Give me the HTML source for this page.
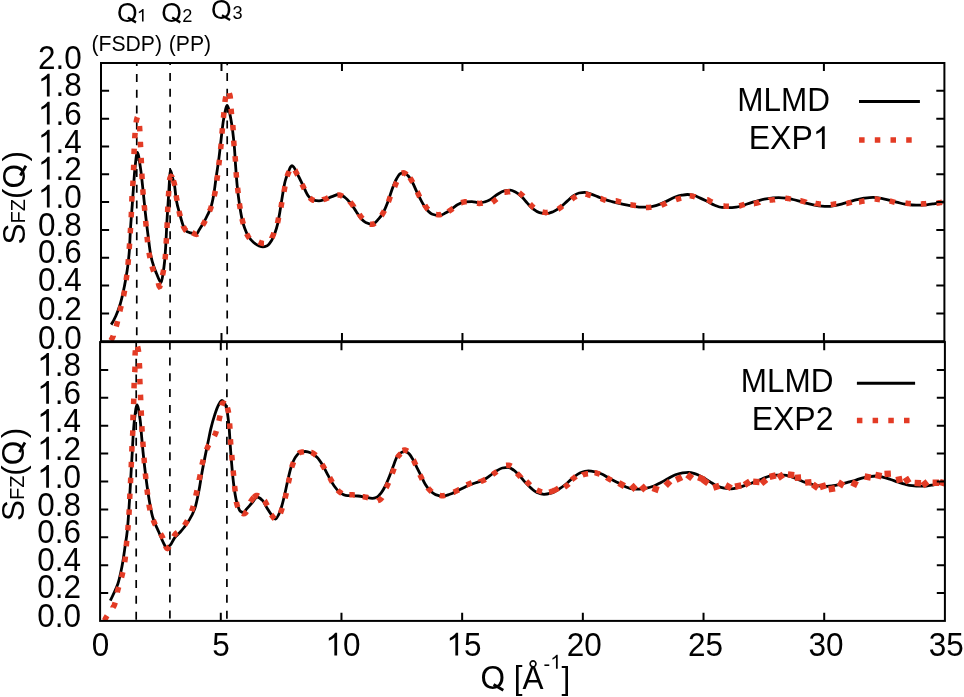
<!DOCTYPE html>
<html><head><meta charset="utf-8"><style>
html,body{margin:0;padding:0;background:#fff;}
svg{display:block;}
text{font-family:"Liberation Sans",sans-serif;font-kerning:none;fill:#000;}
</style></head><body>
<svg width="964" height="697" viewBox="0 0 964 697">
<rect width="964" height="697" fill="#fff"/>
<g stroke="#000" stroke-width="1.7" clip-path="url(#ct)"><line x1="136.76" y1="42.24" x2="136.76" y2="341.20" stroke-dasharray="8 7.83"/><line x1="170.10" y1="57.07" x2="170.10" y2="341.20" stroke-dasharray="8 7.83"/><line x1="227.20" y1="57.17" x2="227.20" y2="341.20" stroke-dasharray="8 7.83"/></g>
<g stroke="#000" stroke-width="1.7" clip-path="url(#cb)"><line x1="136.20" y1="342.86" x2="136.20" y2="620.90" stroke-dasharray="8 7.81"/><line x1="169.90" y1="341.66" x2="169.90" y2="620.90" stroke-dasharray="8 7.81"/><line x1="226.90" y1="341.86" x2="226.90" y2="620.90" stroke-dasharray="8 7.81"/></g>
<defs><clipPath id="ct"><rect x="101.00" y="63.00" width="843.40" height="278.20"/></clipPath><clipPath id="cb"><rect x="100.10" y="342.10" width="844.80" height="278.80"/></clipPath></defs>
<g fill="none" stroke-linejoin="round">
<path clip-path="url(#ct)" d="M111.20 324.60C112.73 322.37 114.27 319.38 115.80 316.00C117.23 312.84 118.67 309.14 120.10 304.50C121.07 301.37 122.03 297.32 123.00 293.00C123.93 288.83 124.87 284.08 125.80 278.70C126.53 274.47 127.27 270.25 128.00 264.30C128.47 260.52 128.93 256.40 129.40 250.00C129.73 245.43 130.07 235.69 130.40 230.20C131.03 219.77 131.67 213.16 132.30 204.30C132.63 199.64 132.97 194.59 133.30 190.00C133.83 182.66 134.37 173.84 134.90 168.90C135.70 161.49 136.50 152.30 137.30 152.30C138.40 152.30 139.50 161.76 140.60 168.90C141.40 174.09 142.20 182.59 143.00 190.00C143.73 196.79 144.47 204.85 145.20 211.50C146.17 220.27 147.13 228.41 148.10 235.90C149.03 243.13 149.97 251.50 150.90 256.00C151.87 260.66 152.83 263.58 153.80 266.50C154.70 269.21 155.60 271.29 156.50 273.50C157.50 275.96 158.50 278.98 159.50 280.50C160.07 281.36 160.63 282.50 161.20 282.50C161.83 282.50 162.47 276.87 163.10 273.00C163.60 269.95 164.10 266.48 164.60 261.50C164.93 258.18 165.27 253.26 165.60 248.00C166.10 240.11 166.60 227.43 167.10 218.70C167.60 209.97 168.10 202.13 168.60 195.00C169.23 185.97 169.87 170.50 170.50 170.50C171.20 170.50 171.90 175.41 172.60 178.00C173.23 180.35 173.87 181.98 174.50 185.30C175.10 188.45 175.70 196.65 176.30 200.00C177.43 206.34 178.57 209.61 179.70 213.70C181.10 218.75 182.50 224.56 183.90 227.30C184.87 229.19 185.83 230.96 186.80 231.50C188.10 232.23 189.40 232.42 190.70 232.80C191.97 233.17 193.23 233.52 194.50 233.80C195.17 233.95 195.83 234.20 196.50 234.20C197.37 234.20 198.23 231.39 199.10 230.00C200.60 227.59 202.10 225.47 203.60 222.80C204.90 220.48 206.20 217.74 207.50 215.00C208.57 212.75 209.63 211.03 210.70 207.90C211.70 204.96 212.70 200.48 213.70 195.00C214.43 190.98 215.17 184.16 215.90 179.00C216.83 172.44 217.77 167.08 218.70 160.00C219.20 156.21 219.70 151.56 220.20 147.40C221.37 137.70 222.53 124.62 223.70 118.70C224.90 112.61 226.10 105.50 227.30 105.50C228.47 105.50 229.63 112.74 230.80 118.70C232.00 124.83 233.20 134.05 234.40 147.40C234.77 151.48 235.13 159.17 235.50 164.30C236.07 172.24 236.63 180.24 237.20 185.90C237.97 193.56 238.73 199.37 239.50 204.50C240.40 210.53 241.30 216.05 242.20 219.80C243.07 223.41 243.93 226.07 244.80 228.40C245.97 231.54 247.13 234.37 248.30 236.20C250.00 238.87 251.70 240.74 253.40 242.20C255.13 243.69 256.87 245.07 258.60 245.70C260.03 246.22 261.47 246.80 262.90 246.80C264.33 246.80 265.77 246.30 267.20 245.70C268.67 245.08 270.13 242.81 271.60 240.50C272.73 238.72 273.87 235.89 275.00 232.80C275.87 230.44 276.73 227.69 277.60 224.10C278.30 221.20 279.00 216.92 279.70 212.90C280.60 207.73 281.50 201.20 282.40 196.00C283.33 190.61 284.27 184.46 285.20 181.00C286.33 176.79 287.47 174.45 288.60 171.50C289.17 170.02 289.73 168.07 290.30 167.30C290.87 166.53 291.43 165.70 292.00 165.70C292.60 165.70 293.20 166.45 293.80 167.10C294.73 168.10 295.67 170.69 296.60 172.50C297.37 173.99 298.13 175.46 298.90 177.00C300.33 179.88 301.77 182.98 303.20 185.90C304.87 189.29 306.53 193.90 308.20 195.90C309.87 197.90 311.53 199.84 313.20 200.20C315.13 200.62 317.07 200.90 319.00 200.90C320.90 200.90 322.80 200.07 324.70 199.50C327.10 198.77 329.50 197.42 331.90 196.60C334.27 195.79 336.63 194.50 339.00 194.50C340.93 194.50 342.87 196.03 344.80 197.30C346.70 198.55 348.60 200.81 350.50 203.10C352.43 205.43 354.37 208.87 356.30 211.70C357.87 213.99 359.43 216.82 361.00 218.50C362.57 220.18 364.13 221.83 365.70 222.50C367.87 223.43 370.03 224.30 372.20 224.30C374.37 224.30 376.53 221.21 378.70 218.90C380.37 217.12 382.03 214.69 383.70 211.70C385.13 209.13 386.57 205.38 388.00 201.60C389.43 197.82 390.87 192.46 392.30 188.70C393.73 184.94 395.17 181.17 396.60 178.70C397.80 176.63 399.00 174.30 400.20 173.70C401.40 173.10 402.60 172.60 403.80 172.60C405.23 172.60 406.67 174.37 408.10 175.80C409.53 177.23 410.97 179.75 412.40 182.30C413.83 184.85 415.27 188.62 416.70 191.60C418.37 195.07 420.03 198.66 421.70 201.60C423.37 204.54 425.03 207.68 426.70 209.50C428.63 211.62 430.57 213.62 432.50 214.30C434.63 215.05 436.77 215.70 438.90 215.70C441.07 215.70 443.23 214.19 445.40 213.10C447.53 212.03 449.67 210.27 451.80 208.80C453.97 207.31 456.13 205.23 458.30 204.20C460.43 203.18 462.57 202.06 464.70 201.90C467.10 201.72 469.50 201.60 471.90 201.60C474.30 201.60 476.70 202.80 479.10 202.80C481.00 202.80 482.90 202.33 484.80 201.90C486.73 201.46 488.67 200.53 490.60 199.50C492.80 198.33 495.00 195.84 497.20 194.50C499.57 193.06 501.93 191.35 504.30 190.90C506.23 190.53 508.17 190.20 510.10 190.20C512.00 190.20 513.90 191.37 515.80 192.30C517.73 193.25 519.67 194.86 521.60 196.60C523.50 198.31 525.40 201.08 527.30 203.10C529.20 205.12 531.10 207.37 533.00 208.80C535.17 210.43 537.33 212.13 539.50 212.70C541.67 213.27 543.83 213.80 546.00 213.80C548.37 213.80 550.73 212.64 553.10 211.70C555.50 210.75 557.90 209.13 560.30 207.40C562.70 205.67 565.10 203.03 567.50 200.90C569.40 199.21 571.30 197.11 573.20 195.90C575.13 194.67 577.07 193.38 579.00 193.00C580.90 192.63 582.80 192.30 584.70 192.30C586.60 192.30 588.50 193.21 590.40 193.80C592.80 194.55 595.20 195.65 597.60 196.60C600.00 197.55 602.40 198.69 604.80 199.50C607.20 200.31 609.60 200.95 612.00 201.60C614.37 202.24 616.73 202.85 619.10 203.40C621.90 204.05 624.70 204.66 627.50 205.20C629.77 205.64 632.03 206.12 634.30 206.40C636.70 206.70 639.10 207.10 641.50 207.10C643.90 207.10 646.30 207.10 648.70 207.10C651.57 207.10 654.43 206.03 657.30 205.20C660.17 204.37 663.03 202.91 665.90 201.60C668.77 200.29 671.63 198.35 674.50 197.30C676.90 196.42 679.30 195.61 681.70 195.20C683.60 194.88 685.50 194.50 687.40 194.50C689.33 194.50 691.27 194.85 693.20 195.20C695.57 195.63 697.93 197.05 700.30 198.10C702.70 199.17 705.10 200.42 707.50 201.60C709.90 202.78 712.30 204.29 714.70 205.20C717.10 206.11 719.50 207.22 721.90 207.40C724.27 207.58 726.63 207.70 729.00 207.70C731.40 207.70 733.80 207.40 736.20 207.10C738.60 206.80 741.00 205.91 743.40 205.20C745.80 204.49 748.20 203.52 750.60 202.80C752.90 202.11 755.20 201.52 757.50 200.90C759.77 200.29 762.03 199.51 764.30 199.10C766.70 198.66 769.10 198.32 771.50 198.10C773.90 197.88 776.30 197.60 778.70 197.60C781.10 197.60 783.50 197.85 785.90 198.10C788.27 198.34 790.63 198.97 793.00 199.50C795.40 200.04 797.80 200.75 800.20 201.40C802.60 202.05 805.00 202.77 807.40 203.40C809.80 204.03 812.20 204.77 814.60 205.20C816.97 205.63 819.33 206.06 821.70 206.20C823.47 206.30 825.23 206.40 827.00 206.40C830.00 206.40 833.00 205.79 836.00 205.30C838.33 204.92 840.67 204.21 843.00 203.60C845.33 202.99 847.67 202.25 850.00 201.60C852.33 200.95 854.67 200.26 857.00 199.70C859.33 199.14 861.67 198.50 864.00 198.20C867.00 197.82 870.00 197.40 873.00 197.40C876.47 197.40 879.93 198.20 883.40 198.80C885.80 199.22 888.20 199.90 890.60 200.50C892.97 201.09 895.33 201.79 897.70 202.40C900.10 203.02 902.50 203.83 904.90 204.20C907.30 204.57 909.70 204.89 912.10 205.00C914.50 205.11 916.90 205.20 919.30 205.20C921.67 205.20 924.03 204.99 926.40 204.80C928.80 204.61 931.20 204.19 933.60 203.80C936.00 203.41 938.40 202.83 940.80 202.40C942.00 202.19 943.20 201.99 944.40 201.80" stroke="#000" stroke-width="2.8"/>
<path clip-path="url(#ct)" d="M110.78 340.56L110.80 340.53L111.22 339.88L111.64 339.19L112.06 338.45L112.48 337.66L112.90 336.74L113.32 335.70L113.32 335.69M116.16 326.55L116.18 326.48L116.40 325.70L116.62 324.90L116.84 324.12L117.06 323.32L117.28 322.48L117.50 321.62L117.59 321.24M119.88 311.18L119.90 311.11L120.10 310.23L120.30 309.36L120.50 308.50L120.70 307.66L120.90 306.84L121.10 306.04L121.15 305.83M123.55 296.00L123.56 295.97L123.72 295.21L123.88 294.42L124.04 293.61L124.20 292.77L124.36 291.89L124.52 290.98L124.59 290.59M126.13 280.23L126.14 280.16L126.26 279.28L126.38 278.39L126.50 277.50L126.62 276.61L126.74 275.71L126.86 274.82L126.87 274.77M127.94 264.74L127.94 264.73L128.02 263.92L128.10 263.08L128.18 262.22L128.26 261.31L128.34 260.32L128.42 259.28L128.42 259.26M129.22 248.94L129.24 248.66L129.30 247.73L129.36 246.81L129.42 245.90L129.48 244.99L129.54 244.09L129.58 243.46M130.23 233.34L130.24 233.22L130.28 232.57L130.32 231.92L130.36 231.26L130.40 230.60L130.44 229.94L130.48 229.28L130.52 228.63L130.56 227.98L130.57 227.86M131.17 217.45L131.18 217.17L131.22 216.37L131.26 215.55L131.30 214.70L131.34 213.80L131.38 212.83L131.41 211.95M131.78 201.65L131.80 201.16L131.84 200.20L131.88 199.31L131.92 198.50L131.96 197.74L132.00 197.01L132.04 196.31L132.05 196.15M132.74 186.05L132.74 186.05L132.78 185.40L132.82 184.73L132.86 184.03L132.90 183.30L132.94 182.55L132.98 181.77L133.02 180.99L133.04 180.55M133.49 170.25L133.50 170.12L133.52 169.60L133.54 169.08L133.56 168.56L133.58 168.03L133.60 167.50L133.62 166.95L133.64 166.37L133.66 165.77L133.68 165.15L133.69 164.75M134.00 154.15L134.02 153.62L134.04 153.03L134.06 152.46L134.08 151.91L134.10 151.40L134.12 150.90L134.14 150.41L134.16 149.92L134.18 149.44L134.20 148.96L134.21 148.65M134.72 138.34L134.72 138.29L134.78 137.32L134.84 136.43L134.90 135.60L134.96 134.81L135.02 134.04L135.08 133.27L135.11 132.86M136.13 122.51L136.14 122.42L136.34 121.09L136.54 120.05L136.74 119.25L136.94 118.49L137.14 117.79L137.34 117.20L137.36 117.16M139.51 125.96L139.52 126.10L139.58 126.96L139.64 127.82L139.70 128.70L139.76 129.62L139.82 130.62L139.87 131.44M140.37 141.75L140.38 142.04L140.42 142.87L140.46 143.69L140.50 144.50L140.54 145.30L140.58 146.09L140.62 146.88L140.64 147.25M141.17 157.85L141.18 158.08L141.22 158.91L141.26 159.75L141.30 160.60L141.34 161.47L141.38 162.36L141.42 163.27L141.42 163.35M141.86 173.65L141.88 173.99L141.92 174.83L141.96 175.63L142.00 176.40L142.04 177.14L142.08 177.87L142.12 178.59L142.15 179.15M142.79 189.26L142.80 189.34L142.86 190.16L142.92 190.96L142.98 191.74L143.04 192.51L143.10 193.25L143.16 193.97L143.22 194.67L143.23 194.74M144.24 205.16L144.24 205.17L144.32 205.99L144.40 206.82L144.48 207.68L144.56 208.56L144.64 209.44L144.72 210.33L144.75 210.64M145.66 220.96L145.66 220.98L145.74 221.89L145.82 222.80L145.90 223.70L145.98 224.61L146.06 225.54L146.14 226.44M147.02 236.76L147.04 236.97L147.12 237.79L147.20 238.58L147.28 239.32L147.36 240.03L147.44 240.73L147.52 241.43L147.60 242.11L147.61 242.23M149.03 252.59L149.04 252.66L149.20 253.62L149.36 254.54L149.52 255.41L149.68 256.24L149.84 257.06L150.00 257.85L150.03 258.00M152.02 266.26L152.04 266.32L152.30 267.23L152.56 268.11L152.82 268.96L153.08 269.78L153.34 270.56L153.60 271.31L153.67 271.51M158.31 282.94L158.32 282.99L158.62 284.23L158.92 285.34L159.22 286.19L159.52 286.62L159.82 286.48L160.12 285.67L160.21 285.34M162.51 275.19L162.52 275.14L162.70 274.37L162.88 273.56L163.06 272.70L163.24 271.79L163.42 270.84L163.60 269.84L163.61 269.80M165.02 259.44L165.04 259.27L165.12 258.50L165.20 257.72L165.28 256.91L165.36 256.05L165.44 255.08L165.52 254.02L165.52 253.96M166.15 243.65L166.16 243.39L166.20 242.67L166.24 241.96L166.28 241.25L166.32 240.55L166.36 239.84L166.40 239.13L166.44 238.41L166.45 238.15M166.98 227.95L166.98 227.85L167.02 226.98L167.06 226.10L167.10 225.20L167.14 224.26L167.18 223.27L167.21 222.45M167.58 212.15L167.60 211.74L167.64 210.76L167.68 209.84L167.72 208.97L167.76 208.13L167.80 207.31L167.83 206.65M168.41 196.34L168.42 196.19L168.48 195.30L168.54 194.43L168.60 193.60L168.66 192.78L168.72 191.95L168.78 191.11L168.80 190.86M169.47 180.36L169.48 180.31L169.88 178.24L170.28 177.31L170.68 176.67L171.08 176.40L171.48 176.55L171.88 177.02L171.88 177.03M173.41 180.47L173.42 180.51L173.64 181.22L173.86 181.95L174.08 182.69L174.30 183.47L174.52 184.44L174.74 185.61L174.77 185.79M176.17 195.48L176.18 195.55L176.32 196.49L176.46 197.37L176.60 198.20L176.74 199.00L176.88 199.80L177.02 200.60L177.07 200.91M178.98 211.02L178.98 211.02L179.20 212.02L179.42 212.97L179.64 213.86L179.86 214.72L180.08 215.58L180.28 216.36M183.36 226.25L183.36 226.26L183.82 227.28L184.28 228.15L184.74 228.93L185.20 229.66L185.66 230.32L186.12 230.88L186.18 230.94M192.18 232.70L192.18 232.70L193.02 233.09L193.86 233.47L194.70 233.80L195.54 234.10L196.38 234.35L197.22 234.03L197.23 234.02M202.58 225.35L202.58 225.35L203.02 224.65L203.46 223.93L203.90 223.18L204.34 222.38L204.78 221.56L205.22 220.71L205.29 220.57M209.44 211.24L209.44 211.24L209.76 210.53L210.08 209.78L210.40 208.97L210.72 208.09L211.04 207.12L211.34 206.08M214.23 196.29L214.24 196.24L214.42 195.39L214.60 194.54L214.78 193.69L214.96 192.86L215.14 192.03L215.32 191.21L215.39 190.91M216.75 180.61L216.76 180.55L216.90 179.73L217.04 178.89L217.18 178.03L217.32 177.12L217.46 176.15L217.59 175.18M218.78 165.23L218.80 165.09L218.90 164.22L219.00 163.36L219.10 162.50L219.20 161.65L219.30 160.81L219.40 159.96L219.42 159.77M220.63 149.14L220.64 149.00L220.72 148.21L220.80 147.42L220.88 146.61L220.96 145.77L221.04 144.90L221.12 144.00L221.15 143.66M221.97 133.64L221.98 133.46L222.06 132.51L222.14 131.58L222.22 130.68L222.30 129.79L222.38 128.90L222.45 128.16M223.43 117.84L223.44 117.75L223.52 116.94L223.60 116.12L223.68 115.30L223.76 114.48L223.84 113.63L223.92 112.76L223.96 112.36M224.92 102.02L224.92 102.02L225.06 100.87L225.20 99.88L225.34 99.09L225.48 98.35L225.62 97.62L225.76 96.91L225.82 96.60M229.32 93.36L229.32 93.37L229.50 93.90L229.68 94.48L229.86 95.10L230.04 95.77L230.22 96.69L230.40 98.46L230.42 98.73M231.09 108.76L231.10 108.93L231.18 110.04L231.26 111.04L231.34 111.94L231.42 112.77L231.50 113.57L231.57 114.24M232.77 124.86L232.78 125.02L232.84 125.68L232.90 126.38L232.96 127.10L233.02 127.86L233.08 128.71L233.14 129.64L233.18 130.34M233.73 140.66L233.74 140.88L233.80 141.89L233.86 142.83L233.92 143.67L233.98 144.47L234.04 145.23L234.10 145.96L234.12 146.14M235.08 156.16L235.08 156.21L235.14 156.90L235.20 157.63L235.26 158.38L235.32 159.17L235.38 160.00L235.44 160.89L235.49 161.64M236.12 172.16L236.12 172.21L236.18 173.15L236.24 174.05L236.30 174.90L236.36 175.73L236.42 176.54L236.48 177.35L236.50 177.64M237.61 187.77L237.62 187.89L237.72 188.84L237.82 189.77L237.92 190.68L238.02 191.57L238.12 192.45L238.21 193.23M239.39 203.48L239.40 203.53L239.54 204.47L239.68 205.41L239.82 206.33L239.96 207.25L240.10 208.15L240.22 208.92M241.95 218.73L241.96 218.76L242.18 219.71L242.40 220.61L242.62 221.48L242.84 222.30L243.06 223.09L243.28 223.85L243.34 224.05M246.63 233.66L246.64 233.68L247.10 234.64L247.56 235.51L248.02 236.29L248.48 237.00L248.94 237.67L249.40 238.30L249.45 238.37M258.74 242.01L258.74 242.01L259.60 242.39L260.46 242.71L261.32 243.01L262.18 243.26L263.04 243.44L263.90 243.52L263.99 243.52M271.92 237.93L271.92 237.92L272.26 237.17L272.60 236.38L272.94 235.55L273.28 234.69L273.62 233.80L273.96 232.90L273.98 232.83M277.56 223.00L277.56 222.97L277.72 222.22L277.88 221.44L278.04 220.62L278.20 219.77L278.36 218.89L278.52 218.00L278.59 217.59M280.98 207.52L281.00 207.39L281.12 206.62L281.24 205.84L281.36 205.06L281.48 204.28L281.60 203.50L281.72 202.72L281.82 202.08M284.04 191.71L284.04 191.70L284.20 190.76L284.36 189.81L284.52 188.88L284.68 187.97L284.84 187.07L284.98 186.29M287.09 176.26L287.10 176.23L287.42 175.40L287.74 174.59L288.06 173.80L288.38 173.01L288.70 172.20L289.02 171.37L289.10 171.14M295.13 170.21L295.14 170.22L295.54 171.11L295.94 171.97L296.34 172.78L296.74 173.55L297.14 174.33L297.54 175.11L297.56 175.14M302.00 184.13L302.02 184.17L302.40 184.95L302.78 185.73L303.16 186.52L303.54 187.33L303.92 188.17L304.30 189.02L304.34 189.10M309.77 197.65L309.78 197.66L310.54 198.45L311.30 199.13L312.06 199.67L312.82 200.04L313.58 200.23L314.34 200.38L314.37 200.39M323.19 199.67L323.20 199.66L324.04 199.39L324.88 199.12L325.72 198.83L326.56 198.50L327.40 198.15L328.24 197.78L328.33 197.73M337.48 195.10L337.50 195.10L338.36 194.99L339.22 194.99L340.08 195.16L340.94 195.49L341.80 195.93L342.65 196.44M350.30 202.04L350.30 202.05L350.84 202.70L351.38 203.37L351.92 204.09L352.46 204.85L353.00 205.65L353.54 206.47L353.54 206.48M359.26 214.22L359.26 214.23L359.80 215.06L360.34 215.86L360.88 216.61L361.42 217.30L361.96 217.91L362.50 218.49L362.59 218.58M369.88 224.04L369.88 224.04L370.72 224.21L371.56 224.31L372.40 224.33L373.24 224.11L374.08 223.65L374.92 222.99L374.96 222.96M381.53 215.43L381.54 215.42L382.00 214.72L382.46 213.99L382.92 213.23L383.38 212.45L383.84 211.63L384.30 210.76L384.33 210.69M388.49 201.69L388.50 201.67L388.78 200.90L389.06 200.11L389.34 199.28L389.62 198.43L389.90 197.56L390.18 196.68L390.24 196.48M394.59 186.96L394.60 186.93L394.94 186.05L395.28 185.19L395.62 184.35L395.96 183.53L396.30 182.74L396.64 181.97L396.68 181.87M401.81 173.18L401.82 173.18L402.62 172.95L403.42 172.84L404.22 172.90L405.02 173.27L405.82 173.87L406.62 174.62L406.67 174.67M409.95 177.77L409.96 177.79L410.42 178.49L410.88 179.23L411.34 180.00L411.80 180.79L412.26 181.60L412.72 182.42L412.76 182.49M417.31 192.02L417.32 192.03L417.72 192.87L418.12 193.71L418.52 194.54L418.92 195.37L419.32 196.20L419.70 196.97M424.82 205.08L424.82 205.09L425.36 205.97L425.90 206.81L426.44 207.60L426.98 208.31L427.52 208.94L428.05 209.52M436.17 214.49L436.18 214.49L437.06 214.65L437.94 214.76L438.82 214.80L439.70 214.73L440.58 214.53L441.46 214.21L441.56 214.17M448.47 211.61L448.48 211.60L449.22 211.08L449.96 210.54L450.70 210.00L451.44 209.47L452.18 208.95L452.92 208.41L452.94 208.40M461.37 202.69L461.38 202.69L462.26 202.35L463.14 202.09L464.02 201.90L464.90 201.80L465.78 201.74L466.66 201.68L466.74 201.68M477.07 203.18L477.08 203.18L477.98 203.33L478.88 203.41L479.78 203.40L480.68 203.33L481.58 203.20L482.48 203.04L482.52 203.03M492.31 202.21L492.32 202.20L493.04 201.80L493.76 201.33L494.48 200.79L495.20 200.21L495.92 199.61L496.64 198.99L496.71 198.94M504.49 192.36L504.50 192.36L505.40 192.19L506.30 192.04L507.20 191.90L508.10 191.79L509.00 191.71L509.90 191.67L509.94 191.66M519.16 192.78L519.16 192.78L519.84 193.30L520.52 193.84L521.20 194.41L521.88 195.01L522.56 195.61L523.24 196.27L523.32 196.36M530.00 204.01L530.02 204.03L530.66 204.72L531.30 205.39L531.94 206.04L532.58 206.65L533.22 207.23L533.86 207.75L533.96 207.82M542.48 212.02L542.48 212.02L543.38 212.19L544.28 212.32L545.18 212.40L546.08 212.43L546.98 212.37L547.88 212.23L547.93 212.21M558.04 209.27L558.06 209.26L558.78 208.77L559.50 208.27L560.22 207.76L560.94 207.23L561.66 206.65L562.38 206.03L562.44 205.98M571.77 199.34L571.78 199.33L572.52 198.67L573.26 198.07L574.00 197.53L574.74 197.06L575.48 196.59L576.22 196.13L576.22 196.13M585.67 194.00L585.68 194.00L586.54 194.22L587.40 194.49L588.26 194.79L589.12 195.09L589.98 195.37L590.84 195.66L590.91 195.68M600.75 198.47L600.76 198.47L601.62 198.83L602.48 199.18L603.34 199.52L604.20 199.83L605.06 200.12L605.90 200.39M615.73 200.74L615.74 200.74L616.62 200.96L617.50 201.18L618.38 201.40L619.26 201.60L620.14 201.81L621.02 202.01L621.08 202.02M630.49 204.73L630.50 204.73L631.40 204.90L632.30 205.05L633.20 205.20L634.10 205.33L635.00 205.45L635.90 205.57L635.93 205.57M645.95 207.40L645.96 207.40L646.86 207.40L647.76 207.40L648.66 207.40L649.56 207.37L650.46 207.28L651.36 207.13L651.43 207.12M661.29 205.32L661.30 205.31L662.12 204.96L662.94 204.59L663.76 204.22L664.58 203.84L665.40 203.45L666.22 203.08L666.29 203.04M675.90 199.69L675.90 199.69L676.76 199.38L677.62 199.09L678.48 198.81L679.34 198.55L680.20 198.31L681.06 198.09L681.15 198.07M689.78 195.77L689.80 195.77L690.68 195.89L691.56 196.03L692.44 196.19L693.32 196.36L694.20 196.59L695.08 196.89L695.15 196.92M707.25 199.66L707.26 199.66L708.06 200.06L708.86 200.46L709.66 200.88L710.46 201.31L711.26 201.74L712.06 202.17L712.12 202.20M723.45 206.06L723.46 206.06L724.36 206.11L725.26 206.16L726.16 206.20L727.06 206.23L727.96 206.25L728.86 206.26L728.95 206.26M739.37 206.00L739.38 206.00L740.24 205.75L741.10 205.48L741.96 205.21L742.82 204.95L743.68 204.69L744.54 204.42L744.63 204.39M753.94 203.71L753.96 203.71L754.84 203.47L755.72 203.23L756.60 203.00L757.48 202.76L758.36 202.53L759.24 202.28L759.25 202.27M769.47 200.19L769.48 200.18L770.38 200.08L771.28 199.99L772.18 199.90L773.08 199.82L773.98 199.73L774.88 199.65L774.94 199.64M785.28 198.13L785.28 198.13L786.18 198.23L787.08 198.35L787.98 198.50L788.88 198.67L789.78 198.86L790.68 199.06L790.69 199.06M800.45 200.66L800.46 200.66L801.34 200.91L802.22 201.15L803.10 201.40L803.98 201.65L804.86 201.90L805.74 202.14L805.75 202.15M815.39 203.33L815.40 203.34L816.30 203.50L817.20 203.65L818.10 203.80L819.00 203.93L819.90 204.05L820.80 204.15L820.83 204.15M830.78 204.62L830.80 204.62L831.70 204.49L832.60 204.35L833.50 204.20L834.40 204.05L835.30 203.89L836.20 203.74L836.21 203.74M846.36 203.57L846.38 203.57L847.26 203.31L848.14 203.05L849.02 202.79L849.90 202.54L850.78 202.30L851.65 202.05M859.12 202.03L859.14 202.03L860.02 201.81L860.90 201.60L861.78 201.40L862.66 201.22L863.54 201.06L864.42 200.93L864.51 200.92M874.67 198.99L874.68 198.99L875.58 199.07L876.48 199.17L877.38 199.30L878.28 199.44L879.18 199.59L880.08 199.75L880.11 199.76M889.64 200.91L889.64 200.91L890.52 201.14L891.40 201.36L892.28 201.59L893.16 201.83L894.04 202.07L894.92 202.31L894.95 202.32M905.38 203.02L905.38 203.02L906.28 203.15L907.18 203.28L908.08 203.40L908.98 203.50L909.88 203.60L910.78 203.68L910.84 203.68M920.85 203.96L920.86 203.96L921.76 203.92L922.66 203.86L923.56 203.80L924.46 203.74L925.36 203.66L926.26 203.59L926.34 203.58M936.61 203.35L936.62 203.35L937.52 203.16L938.42 202.98L939.32 202.80L940.22 202.62L941.12 202.46L942.01 202.31" fill="none" stroke="#e33b25" stroke-width="5.50" stroke-linejoin="miter" stroke-miterlimit="10"/>
<path clip-path="url(#cb)" d="M110.30 600.60C111.63 598.05 112.97 595.26 114.30 592.30C115.50 589.63 116.70 587.31 117.90 583.70C118.87 580.79 119.83 576.59 120.80 572.20C121.53 568.87 122.27 565.04 123.00 560.70C123.70 556.56 124.40 551.29 125.10 546.40C125.83 541.27 126.57 537.54 127.30 530.60C128.00 523.98 128.70 512.55 129.40 501.70C129.87 494.47 130.33 485.38 130.80 477.30C131.30 468.64 131.80 460.24 132.30 451.50C132.67 445.09 133.03 437.15 133.40 432.00C133.73 427.32 134.07 423.07 134.40 420.30C135.27 413.11 136.13 404.80 137.00 404.80C138.07 404.80 139.13 412.63 140.20 420.30C140.63 423.41 141.07 430.17 141.50 435.00C142.00 440.58 142.50 446.53 143.00 451.50C143.97 461.12 144.93 469.83 145.90 477.30C147.10 486.58 148.30 494.86 149.50 501.70C150.47 507.21 151.43 512.61 152.40 516.10C153.20 518.99 154.00 520.96 154.80 523.00C156.13 526.40 157.47 528.94 158.80 532.00C160.23 535.29 161.67 539.51 163.10 542.10C164.27 544.21 165.43 547.30 166.60 547.30C167.83 547.30 169.07 546.11 170.30 545.00C171.73 543.72 173.17 539.64 174.60 537.80C176.50 535.37 178.40 534.12 180.30 532.00C181.53 530.62 182.77 529.11 184.00 527.50C185.67 525.32 187.33 523.17 189.00 520.40C190.90 517.24 192.80 514.22 194.70 508.90C196.13 504.89 197.57 497.56 199.00 490.30C199.97 485.40 200.93 478.37 201.90 473.00C203.10 466.34 204.30 460.37 205.50 454.40C206.50 449.43 207.50 444.81 208.50 440.00C209.27 436.31 210.03 432.09 210.80 428.90C212.13 423.35 213.47 418.60 214.80 414.60C216.03 410.90 217.27 407.11 218.50 405.00C219.67 403.00 220.83 400.50 222.00 400.50C222.83 400.50 223.67 401.79 224.50 403.00C225.10 403.87 225.70 405.32 226.30 407.40C227.00 409.82 227.70 414.61 228.40 420.30C228.70 422.74 229.00 426.15 229.30 430.00C229.60 433.85 229.90 439.92 230.20 444.30C230.67 451.12 231.13 457.54 231.60 463.00C232.30 471.19 233.00 479.17 233.70 484.50C234.67 491.87 235.63 498.15 236.60 501.70C237.80 506.11 239.00 510.15 240.20 511.10C241.17 511.87 242.13 512.50 243.10 512.50C244.30 512.50 245.50 510.17 246.70 508.90C248.37 507.13 250.03 505.03 251.70 503.20C253.60 501.12 255.50 497.20 257.40 497.20C259.07 497.20 260.73 498.77 262.40 500.30C263.83 501.61 265.27 505.21 266.70 507.50C268.30 510.05 269.90 512.85 271.50 514.80C272.87 516.46 274.23 519.00 275.60 519.00C276.67 519.00 277.73 516.35 278.80 514.30C279.80 512.37 280.80 509.25 281.80 506.00C282.77 502.86 283.73 498.72 284.70 494.60C285.63 490.62 286.57 485.61 287.50 481.60C288.70 476.45 289.90 470.85 291.10 467.30C292.53 463.06 293.97 459.33 295.40 457.30C297.10 454.90 298.80 452.62 300.50 452.20C302.17 451.79 303.83 451.50 305.50 451.50C307.40 451.50 309.30 452.26 311.20 453.00C313.13 453.75 315.07 455.43 317.00 457.30C318.90 459.14 320.80 462.17 322.70 465.20C324.60 468.23 326.50 472.47 328.40 475.90C330.33 479.39 332.27 483.36 334.20 486.00C336.10 488.59 338.00 491.07 339.90 492.40C341.80 493.73 343.70 495.10 345.60 495.30C348.00 495.55 350.40 495.56 352.80 495.70C354.53 495.80 356.27 495.86 358.00 496.00C360.40 496.20 362.80 496.70 365.20 497.10C367.57 497.49 369.93 498.40 372.30 498.40C373.77 498.40 375.23 497.94 376.70 497.40C378.13 496.87 379.57 494.89 381.00 493.10C382.43 491.31 383.87 488.78 385.30 486.00C386.73 483.22 388.17 479.48 389.60 475.90C391.03 472.32 392.47 468.01 393.90 464.40C395.10 461.38 396.30 457.31 397.50 455.80C398.93 454.00 400.37 452.73 401.80 452.20C402.73 451.85 403.67 451.50 404.60 451.50C405.80 451.50 407.00 452.25 408.20 453.00C409.63 453.89 411.07 456.41 412.50 458.70C413.93 460.99 415.37 464.43 416.80 467.30C418.23 470.17 419.67 473.03 421.10 475.90C422.53 478.77 423.97 482.19 425.40 484.50C426.83 486.81 428.27 488.91 429.70 490.30C431.63 492.18 433.57 493.89 435.50 494.60C437.87 495.47 440.23 496.30 442.60 496.30C445.00 496.30 447.40 495.13 449.80 494.30C452.20 493.47 454.60 492.15 457.00 491.00C459.40 489.85 461.80 488.54 464.20 487.40C466.57 486.28 468.93 485.09 471.30 484.20C473.70 483.30 476.10 482.77 478.50 481.90C480.43 481.20 482.37 480.50 484.30 479.50C486.20 478.52 488.10 476.94 490.00 475.60C491.83 474.31 493.67 472.73 495.50 471.60C497.77 470.20 500.03 468.44 502.30 468.00C504.23 467.63 506.17 467.30 508.10 467.30C510.00 467.30 511.90 468.93 513.80 470.20C515.73 471.50 517.67 473.86 519.60 475.90C521.50 477.91 523.40 480.38 525.30 482.40C527.20 484.42 529.10 486.48 531.00 488.10C532.93 489.75 534.87 491.63 536.80 492.40C539.20 493.35 541.60 494.30 544.00 494.30C546.37 494.30 548.73 493.70 551.10 493.10C553.50 492.49 555.90 490.90 558.30 489.50C560.70 488.10 563.10 486.38 565.50 484.50C567.87 482.64 570.23 479.98 572.60 478.10C575.00 476.20 577.40 473.88 579.80 473.00C582.67 471.94 585.53 470.90 588.40 470.90C590.80 470.90 593.20 471.42 595.60 471.90C598.00 472.38 600.40 473.42 602.80 474.50C605.20 475.58 607.60 477.48 610.00 478.80C612.50 480.17 615.00 481.33 617.50 482.60C620.17 483.96 622.83 485.68 625.50 486.70C627.77 487.57 630.03 488.63 632.30 488.80C634.70 488.98 637.10 489.10 639.50 489.10C641.90 489.10 644.30 488.55 646.70 488.10C649.10 487.65 651.50 486.89 653.90 486.00C656.27 485.12 658.63 483.64 661.00 482.40C663.40 481.14 665.80 479.77 668.20 478.50C670.60 477.23 673.00 475.67 675.40 474.80C677.80 473.93 680.20 473.11 682.60 472.80C684.50 472.55 686.40 472.30 688.30 472.30C690.70 472.30 693.10 473.10 695.50 473.80C697.87 474.49 700.23 476.02 702.60 477.30C705.00 478.60 707.40 480.15 709.80 481.60C712.20 483.05 714.60 485.05 717.00 486.00C719.40 486.95 721.80 487.75 724.20 488.10C726.57 488.45 728.93 488.80 731.30 488.80C733.70 488.80 736.10 487.97 738.50 487.40C740.90 486.83 743.30 485.96 745.70 485.20C747.13 484.75 748.57 484.33 750.00 483.80C751.83 483.12 753.67 482.15 755.50 481.40C757.77 480.47 760.03 479.64 762.30 478.80C764.70 477.91 767.10 476.68 769.50 476.20C771.90 475.72 774.30 475.20 776.70 475.20C779.10 475.20 781.50 475.20 783.90 475.20C786.27 475.20 788.63 475.97 791.00 476.60C793.40 477.23 795.80 478.53 798.20 479.50C800.60 480.47 803.00 481.59 805.40 482.40C807.80 483.21 810.20 483.91 812.60 484.50C814.97 485.08 817.33 485.79 819.70 486.00C822.13 486.21 824.57 486.40 827.00 486.40C829.07 486.40 831.13 486.00 833.20 485.70C835.57 485.35 837.93 484.74 840.30 484.20C842.70 483.65 845.10 483.02 847.50 482.40C849.90 481.78 852.30 481.21 854.70 480.50C857.10 479.79 859.50 478.72 861.90 478.10C864.27 477.49 866.63 476.88 869.00 476.60C871.40 476.31 873.80 476.00 876.20 476.00C878.60 476.00 881.00 476.76 883.40 477.30C885.80 477.84 888.20 478.73 890.60 479.50C892.97 480.26 895.33 481.12 897.70 481.90C900.10 482.69 902.50 483.59 904.90 484.20C907.30 484.81 909.70 485.45 912.10 485.70C914.50 485.95 916.90 486.20 919.30 486.20C921.67 486.20 924.03 486.11 926.40 486.00C928.80 485.88 931.20 485.23 933.60 484.80C936.47 484.28 939.33 483.65 942.20 483.10C943.10 482.93 944.00 482.76 944.90 482.60" stroke="#000" stroke-width="2.8"/>
<path clip-path="url(#cb)" d="M104.50 620.50L104.50 620.50L104.94 619.58L105.38 618.70L105.82 617.89L106.26 617.13L106.70 616.41L107.12 615.75M112.98 607.61L112.98 607.60L113.34 607.04L113.70 606.41L114.06 605.71L114.42 604.92L114.78 603.86L115.13 602.58M117.28 592.38L117.28 592.36L117.50 591.36L117.72 590.42L117.94 589.55L118.16 588.72L118.38 587.93L118.60 587.16L118.63 587.05M121.53 577.47L121.54 577.43L121.74 576.67L121.94 575.88L122.14 575.05L122.34 574.20L122.54 573.35L122.74 572.48L122.82 572.12M124.72 562.02L124.72 562.02L124.82 561.33L124.92 560.63L125.02 559.90L125.12 559.15L125.22 558.31L125.32 557.39L125.40 556.57M126.26 546.24L126.28 546.03L126.36 545.08L126.44 544.17L126.52 543.28L126.60 542.42L126.68 541.58L126.76 540.76M127.76 530.44L127.78 530.27L127.84 529.59L127.90 528.89L127.96 528.18L128.02 527.46L128.08 526.72L128.14 525.98L128.20 525.24L128.22 524.96M128.94 514.85L128.94 514.82L128.98 514.16L129.02 513.49L129.06 512.80L129.10 512.10L129.14 511.37L129.18 510.59L129.22 509.77L129.24 509.35M129.68 499.05L129.68 498.97L129.72 498.05L129.76 497.16L129.80 496.30L129.84 495.46L129.88 494.64L129.92 493.83L129.93 493.55M130.47 483.25L130.48 482.97L130.52 482.16L130.56 481.34L130.60 480.50L130.64 479.65L130.68 478.80L130.72 477.94L130.73 477.75M131.19 467.45L131.20 467.11L131.22 466.63L131.24 466.15L131.26 465.67L131.28 465.19L131.30 464.70L131.32 464.21L131.34 463.71L131.36 463.20L131.38 462.68L131.40 462.15L131.41 461.95M131.79 451.65L131.80 451.30L131.84 450.31L131.88 449.36L131.92 448.45L131.96 447.58L132.00 446.74L132.03 446.15M132.57 435.95L132.58 435.77L132.62 434.94L132.66 434.09L132.70 433.20L132.74 432.28L132.78 431.33L132.82 430.45M132.90 420.25L132.90 420.19L132.92 419.65L132.94 419.11L132.96 418.57L132.98 418.03L133.00 417.50L133.02 416.97L133.04 416.45L133.06 415.94L133.08 415.42L133.10 414.92L133.11 414.75M133.61 404.15L133.62 403.88L133.64 403.28L133.66 402.67L133.68 402.04L133.70 401.40L133.72 400.73L133.74 400.02L133.76 399.27L133.78 398.65M134.02 388.35L134.04 387.61L134.06 386.89L134.08 386.22L134.10 385.60L134.12 385.01L134.14 384.43L134.16 383.87L134.18 383.32L134.20 382.85M134.77 372.15L134.78 372.03L134.82 371.17L134.86 370.30L134.90 369.40L134.94 368.47L134.98 367.52L135.02 366.65M135.02 355.54L135.02 355.48L135.08 354.59L135.14 353.69L135.20 352.80L135.26 351.93L135.32 351.08L135.38 350.26L135.39 350.06M137.61 346.52L137.62 346.56L137.78 347.18L137.94 347.90L138.10 348.68L138.26 349.52L138.42 350.42L138.58 351.63L138.61 351.92M139.33 363.06L139.34 363.23L139.38 363.86L139.42 364.51L139.46 365.15L139.50 365.80L139.54 366.48L139.58 367.21L139.62 367.99L139.65 368.55M139.78 378.85L139.80 379.27L139.84 380.22L139.88 381.15L139.92 382.05L139.96 382.95L140.00 383.86L140.02 384.35M140.48 394.65L140.48 394.69L140.52 395.59L140.56 396.50L140.60 397.40L140.64 398.30L140.68 399.21L140.72 400.11L140.72 400.15M141.18 410.45L141.18 410.49L141.22 411.39L141.26 412.30L141.30 413.20L141.34 414.11L141.38 415.04L141.42 415.95M141.86 426.25L141.88 426.63L141.92 427.45L141.96 428.24L142.00 429.00L142.04 429.73L142.08 430.44L142.12 431.14L142.16 431.75M142.81 441.56L142.82 441.75L142.88 442.59L142.94 443.44L143.00 444.30L143.06 445.16L143.12 446.01L143.18 446.86L143.19 447.04M143.98 457.66L144.00 457.90L144.06 458.66L144.12 459.41L144.18 460.15L144.24 460.89L144.30 461.62L144.36 462.35L144.42 463.07L144.43 463.14M145.34 473.46L145.34 473.49L145.42 474.33L145.50 475.17L145.58 476.00L145.66 476.81L145.74 477.62L145.82 478.43L145.87 478.94M146.97 489.27L146.98 489.33L147.08 490.18L147.18 491.02L147.28 491.84L147.38 492.64L147.48 493.45L147.58 494.25L147.64 494.73M149.02 504.79L149.02 504.80L149.18 505.76L149.34 506.66L149.50 507.50L149.66 508.30L149.82 509.08L149.98 509.85L150.05 510.19M153.26 519.92L153.28 519.97L153.62 520.98L153.96 521.90L154.30 522.74L154.64 523.49L154.98 524.17L155.32 524.80L155.42 524.96M160.56 533.76L160.58 533.79L161.00 534.43L161.42 535.11L161.84 535.82L162.26 536.60L162.68 537.55L163.10 538.62M165.74 546.44L165.74 546.45L166.30 547.54L166.86 548.25L167.42 548.50L167.98 548.22L168.54 547.50L169.10 546.48L169.11 546.47M173.81 536.51L173.82 536.49L174.40 535.48L174.98 534.60L175.56 533.91L176.14 533.33L176.72 532.83L177.30 532.38L177.33 532.36M184.49 525.30L184.50 525.28L184.98 524.56L185.46 523.83L185.94 523.09L186.42 522.35L186.90 521.59L187.38 520.81L187.46 520.67M191.58 511.19L191.58 511.19L191.86 510.44L192.14 509.66L192.42 508.84L192.70 507.98L192.98 507.07L193.26 506.10L193.30 505.97M195.79 495.78L195.80 495.72L196.00 494.85L196.20 493.97L196.40 493.10L196.60 492.22L196.80 491.33L197.00 490.42L197.00 490.42M199.16 480.00L199.16 479.99L199.32 479.19L199.48 478.40L199.64 477.60L199.80 476.80L199.96 475.97L200.12 475.12L200.22 474.60M201.99 464.98L202.00 464.94L202.22 463.91L202.44 462.95L202.66 462.07L202.88 461.22L203.10 460.39L203.30 459.64M206.52 449.73L206.54 449.68L206.92 448.75L207.30 447.86L207.68 447.03L208.06 446.25L208.44 445.52L208.82 444.84L208.87 444.76M214.29 436.07L214.30 436.05L214.64 435.43L214.98 434.76L215.32 434.02L215.66 433.19L216.00 432.22L216.34 431.12L216.38 430.99M218.89 420.88L218.90 420.83L219.08 420.03L219.26 419.24L219.44 418.46L219.62 417.66L219.80 416.77L219.98 415.80L220.03 415.50M221.72 405.59L221.72 405.59L222.32 403.52L222.92 403.11L223.52 403.19L224.12 403.36L224.72 403.60L225.30 403.89M227.37 407.65L227.38 407.69L227.58 408.36L227.78 409.07L227.98 409.83L228.18 410.65L228.38 411.72L228.57 413.01M229.59 423.36L229.60 423.51L229.66 424.27L229.72 425.05L229.78 425.83L229.84 426.67L229.90 427.65L229.96 428.76L229.96 428.85M230.45 439.25L230.46 439.45L230.50 440.24L230.54 440.99L230.58 441.68L230.62 442.31L230.66 442.89L230.70 443.46L230.74 444.02L230.78 444.56L230.79 444.74M231.74 454.96L231.74 454.97L231.82 455.79L231.90 456.63L231.98 457.48L232.06 458.36L232.14 459.23L232.22 460.10L232.25 460.44M233.14 470.46L233.16 470.65L233.24 471.50L233.32 472.35L233.40 473.20L233.48 474.05L233.56 474.92L233.64 475.78L233.65 475.94M234.62 486.06L234.64 486.25L234.72 487.05L234.80 487.84L234.88 488.61L234.96 489.38L235.04 490.17L235.12 490.97L235.18 491.54M236.38 501.92L236.38 501.94L236.62 503.24L236.86 504.12L237.10 504.93L237.34 505.69L237.58 506.39L237.82 507.04L237.88 507.20M242.34 513.24L242.36 513.25L243.08 513.61L243.80 513.80L244.52 513.72L245.24 513.21L245.96 512.40L246.68 511.45L246.70 511.43M250.35 501.80L250.36 501.78L250.90 501.11L251.44 500.38L251.98 499.63L252.52 498.88L253.06 498.16L253.60 497.50L253.67 497.42M253.98 497.43L254.00 497.41L254.76 496.53L255.52 495.87L256.28 495.51L257.04 495.49L257.80 495.69L258.56 496.06L258.61 496.09M264.63 500.81L264.64 500.82L265.08 501.53L265.52 502.30L265.96 503.12L266.40 503.97L266.84 504.81L267.28 505.63M271.14 514.61L271.16 514.63L271.74 515.35L272.32 516.14L272.90 516.94L273.48 517.68L274.06 518.33L274.64 518.81L274.65 518.82M280.44 513.18L280.44 513.18L280.74 512.42L281.04 511.62L281.34 510.77L281.64 509.89L281.94 508.97L282.24 508.03L282.25 507.99M285.07 498.38L285.08 498.32L285.28 497.48L285.48 496.64L285.68 495.79L285.88 494.93L286.08 494.07L286.28 493.18L286.31 493.02M288.38 482.88L288.40 482.81L288.60 481.93L288.80 481.07L289.00 480.20L289.20 479.33L289.40 478.46L289.60 477.59L289.62 477.52M291.69 467.30L291.70 467.27L292.00 466.39L292.30 465.54L292.60 464.70L292.90 463.89L293.20 463.10L293.50 462.34L293.58 462.13M298.77 453.39L298.78 453.38L299.62 452.75L300.46 452.38L301.30 452.18L302.14 452.00L302.98 451.86L303.82 451.75L303.91 451.74M311.39 452.40L311.40 452.40L312.14 452.71L312.88 453.11L313.62 453.58L314.36 454.11L315.10 454.70L315.84 455.34L315.94 455.42M321.97 464.25L321.98 464.27L322.42 464.97L322.86 465.68L323.30 466.43L323.74 467.21L324.18 468.01L324.62 468.84L324.71 469.02M329.70 477.48L329.72 477.51L330.14 478.29L330.56 479.08L330.98 479.86L331.40 480.64L331.82 481.40L332.24 482.15L332.33 482.31M337.61 490.10L337.62 490.11L338.32 490.85L339.02 491.52L339.72 492.09L340.42 492.59L341.12 493.07L341.82 493.54L341.86 493.57M349.35 494.69L349.36 494.69L350.26 494.72L351.16 494.76L352.06 494.80L352.96 494.85L353.86 494.89L354.76 494.94L354.85 494.94M362.79 496.63L362.80 496.63L363.70 496.79L364.60 496.95L365.50 497.10L366.40 497.28L367.30 497.49L368.18 497.71M377.73 500.75L377.74 500.74L378.46 500.51L379.18 500.24L379.90 499.83L380.62 499.23L381.34 498.48L382.06 497.63L382.08 497.60M386.16 487.66L386.18 487.63L386.56 486.90L386.94 486.15L387.32 485.37L387.70 484.55L388.08 483.69L388.46 482.81L388.51 482.69M392.26 473.48L392.26 473.47L392.56 472.66L392.86 471.84L393.16 471.01L393.46 470.18L393.76 469.36L394.06 468.54L394.14 468.32M397.35 457.75L397.36 457.73L397.94 456.69L398.52 455.94L399.10 455.28L399.68 454.68L400.26 454.15L400.84 453.68L400.91 453.63M402.62 450.54L402.62 450.54L403.48 450.27L404.34 450.09L405.20 450.09L406.06 450.30L406.92 450.68L407.78 451.17L407.81 451.18M413.47 460.24L413.48 460.25L413.88 461.02L414.28 461.83L414.68 462.66L415.08 463.50L415.48 464.36L415.87 465.19M419.88 474.64L419.88 474.64L420.28 475.44L420.68 476.24L421.08 477.06L421.48 477.89L421.88 478.74L422.28 479.59M427.93 487.90L427.94 487.92L428.56 488.72L429.18 489.45L429.80 490.10L430.42 490.70L431.04 491.28L431.66 491.83L431.71 491.88M439.68 495.33L439.68 495.33L440.58 495.52L441.48 495.64L442.38 495.70L443.28 495.67L444.18 495.55L445.08 495.35L445.12 495.34M453.83 492.22L453.84 492.22L454.66 491.81L455.48 491.40L456.30 491.00L457.12 490.60L457.94 490.20L458.76 489.79L458.77 489.79M466.69 484.93L466.70 484.93L467.54 484.54L468.38 484.16L469.22 483.79L470.06 483.44L470.90 483.12L471.74 482.82L471.77 482.81M480.56 481.55L480.56 481.54L481.38 481.23L482.20 480.89L483.02 480.54L483.84 480.15L484.66 479.74L485.48 479.26L485.54 479.23M492.50 474.64L492.50 474.64L493.24 474.08L493.98 473.52L494.72 472.99L495.46 472.48L496.20 472.02L496.94 471.54L497.00 471.50M506.06 465.31L506.06 465.31L506.94 465.23L507.82 465.18L508.70 465.19L509.58 465.38L510.46 465.74L511.33 466.22M516.94 473.18L516.94 473.18L517.56 473.85L518.18 474.52L518.80 475.20L519.42 475.87L520.04 476.53L520.66 477.22L520.66 477.23M526.32 481.10L526.32 481.10L526.94 481.76L527.56 482.42L528.18 483.08L528.80 483.73L529.42 484.37L530.04 484.99L530.12 485.07M536.86 489.96L536.86 489.96L537.72 490.35L538.58 490.69L539.44 491.01L540.30 491.32L541.16 491.60L542.02 491.83L542.02 491.83M549.15 492.14L549.16 492.14L550.00 491.93L550.84 491.72L551.68 491.44L552.52 491.11L553.36 490.71L554.20 490.28L554.29 490.23M553.71 490.86L553.72 490.85L554.50 490.43L555.28 489.98L556.06 489.52L556.84 489.06L557.62 488.60L558.40 488.14L558.47 488.10M564.42 487.37L564.42 487.37L565.12 486.84L565.82 486.31L566.52 485.76L567.22 485.19L567.92 484.58L568.62 483.94L568.67 483.89M571.69 479.86L571.70 479.85L572.40 479.24L573.10 478.67L573.80 478.10L574.50 477.52L575.20 476.94L575.90 476.37L575.92 476.35M582.67 475.00L582.68 474.99L583.56 474.70L584.44 474.43L585.32 474.19L586.20 473.99L587.08 473.84L587.96 473.73L588.01 473.73M594.63 472.65L594.64 472.65L595.50 472.82L596.36 473.03L597.22 473.28L598.08 473.56L598.94 473.87L599.80 474.21L599.88 474.24M606.87 477.64L606.88 477.65L607.66 478.16L608.44 478.65L609.22 479.11L610.00 479.55L610.78 479.96L611.56 480.37L611.62 480.40" fill="none" stroke="#e33b25" stroke-width="5.50" stroke-linejoin="miter" stroke-miterlimit="10"/><path clip-path="url(#cb)" d="M618.81 483.04L624.39 486.16M631.29 485.08L635.71 489.72M641.11 490.23L645.89 485.97M652.57 488.07L658.63 490.13M665.67 485.69L670.13 481.11M676.10 479.86L681.90 477.14M687.18 474.62L692.22 478.58M698.21 477.36L704.19 479.64M702.91 479.73L708.09 483.47M713.27 487.72L719.33 485.68M725.69 485.18L731.31 488.22M735.06 486.63L741.34 485.37M744.54 484.98L749.86 481.42M753.11 481.67L759.49 482.13M761.32 483.63L766.28 479.57M769.59 476.94L775.81 475.46M778.03 477.97L783.37 474.43M787.83 474.38L794.17 475.22M794.71 477.82L801.09 477.38M805.11 482.67L811.49 482.13M812.81 484.32L817.99 488.08M819.83 487.11L825.97 485.29M828.64 489.32L834.96 488.28M838.25 482.37L843.75 485.63M851.73 482.39L857.47 485.21M864.56 476.48L870.84 477.72M875.36 474.96L881.64 476.24M884.51 474.00L890.89 473.60M896.08 480.19L902.32 478.81M905.37 477.51L908.83 482.89M914.61 482.89L920.99 483.31M922.48 485.78L927.52 481.82M932.60 482.79L939.00 482.81M939.80 481.99L946.00 483.61" fill="none" stroke="#e33b25" stroke-width="6.4"/>
</g>
<g stroke="#000" fill="none" stroke-linecap="square">
<rect x="101.00" y="63.00" width="843.40" height="278.20" stroke-width="2"/>
<path d="M101.00 313.38H109.10M944.40 313.38H936.30" stroke-width="2" stroke-linecap="butt"/>
<path d="M101.00 285.56H109.10M944.40 285.56H936.30" stroke-width="2" stroke-linecap="butt"/>
<path d="M101.00 257.74H109.10M944.40 257.74H936.30" stroke-width="2" stroke-linecap="butt"/>
<path d="M101.00 229.92H109.10M944.40 229.92H936.30" stroke-width="2" stroke-linecap="butt"/>
<path d="M101.00 202.10H109.10M944.40 202.10H936.30" stroke-width="2" stroke-linecap="butt"/>
<path d="M101.00 174.28H109.10M944.40 174.28H936.30" stroke-width="2" stroke-linecap="butt"/>
<path d="M101.00 146.46H109.10M944.40 146.46H936.30" stroke-width="2" stroke-linecap="butt"/>
<path d="M101.00 118.64H109.10M944.40 118.64H936.30" stroke-width="2" stroke-linecap="butt"/>
<path d="M101.00 90.82H109.10M944.40 90.82H936.30" stroke-width="2" stroke-linecap="butt"/>
<path d="M221.49 341.20V333.10M221.49 63.00V71.10" stroke-width="2" stroke-linecap="butt"/>
<path d="M341.97 341.20V333.10M341.97 63.00V71.10" stroke-width="2" stroke-linecap="butt"/>
<path d="M462.46 341.20V333.10M462.46 63.00V71.10" stroke-width="2" stroke-linecap="butt"/>
<path d="M582.94 341.20V333.10M582.94 63.00V71.10" stroke-width="2" stroke-linecap="butt"/>
<path d="M703.43 341.20V333.10M703.43 63.00V71.10" stroke-width="2" stroke-linecap="butt"/>
<path d="M823.91 341.20V333.10M823.91 63.00V71.10" stroke-width="2" stroke-linecap="butt"/>
<rect x="100.10" y="342.10" width="844.80" height="278.80" stroke-width="2"/>
<path d="M100.10 593.02H108.20M944.90 593.02H936.80" stroke-width="2" stroke-linecap="butt"/>
<path d="M100.10 565.14H108.20M944.90 565.14H936.80" stroke-width="2" stroke-linecap="butt"/>
<path d="M100.10 537.26H108.20M944.90 537.26H936.80" stroke-width="2" stroke-linecap="butt"/>
<path d="M100.10 509.38H108.20M944.90 509.38H936.80" stroke-width="2" stroke-linecap="butt"/>
<path d="M100.10 481.50H108.20M944.90 481.50H936.80" stroke-width="2" stroke-linecap="butt"/>
<path d="M100.10 453.62H108.20M944.90 453.62H936.80" stroke-width="2" stroke-linecap="butt"/>
<path d="M100.10 425.74H108.20M944.90 425.74H936.80" stroke-width="2" stroke-linecap="butt"/>
<path d="M100.10 397.86H108.20M944.90 397.86H936.80" stroke-width="2" stroke-linecap="butt"/>
<path d="M100.10 369.98H108.20M944.90 369.98H936.80" stroke-width="2" stroke-linecap="butt"/>
<path d="M220.79 620.90V612.80M220.79 342.10V350.20" stroke-width="2" stroke-linecap="butt"/>
<path d="M341.47 620.90V612.80M341.47 342.10V350.20" stroke-width="2" stroke-linecap="butt"/>
<path d="M462.16 620.90V612.80M462.16 342.10V350.20" stroke-width="2" stroke-linecap="butt"/>
<path d="M582.84 620.90V612.80M582.84 342.10V350.20" stroke-width="2" stroke-linecap="butt"/>
<path d="M703.53 620.90V612.80M703.53 342.10V350.20" stroke-width="2" stroke-linecap="butt"/>
<path d="M824.21 620.90V612.80M824.21 342.10V350.20" stroke-width="2" stroke-linecap="butt"/>
</g>
<line x1="859" y1="101.4" x2="919.9" y2="101.4" stroke="#000" stroke-width="3"/>
<line x1="859.1" y1="139.9" x2="912" y2="139.9" stroke="#e33b25" stroke-width="5.5" stroke-dasharray="5.5 10.2"/>
<line x1="856.9" y1="383.3" x2="915.1" y2="383.3" stroke="#000" stroke-width="3"/>
<line x1="856.9" y1="420.5" x2="911" y2="420.5" stroke="#e33b25" stroke-width="5.5" stroke-dasharray="5.5 10.2"/>
<g fill="#000" style="opacity:0.999">
<g transform="translate(37.91 68.70) scale(1 1.0350)"><text x="0.00" y="0" font-size="31.50">2.0</text></g>
<g transform="translate(37.91 96.40) scale(1 1.0350)"><path d="M11.74 0.00L8.97 0.00L8.97 -17.64C8.31 -17.01 7.43 -16.37 6.35 -15.73C5.26 -15.10 4.29 -14.63 3.43 -14.32L3.43 -17.00C4.98 -17.72 6.34 -18.61 7.49 -19.64C8.64 -20.67 9.46 -21.67 9.94 -21.99L11.74 -21.99Z"/><text x="17.52" y="0" font-size="31.50">.8</text></g>
<g transform="translate(37.91 124.60) scale(1 1.0350)"><path d="M11.74 0.00L8.97 0.00L8.97 -17.64C8.31 -17.01 7.43 -16.37 6.35 -15.73C5.26 -15.10 4.29 -14.63 3.43 -14.32L3.43 -17.00C4.98 -17.72 6.34 -18.61 7.49 -19.64C8.64 -20.67 9.46 -21.67 9.94 -21.99L11.74 -21.99Z"/><text x="17.52" y="0" font-size="31.50">.6</text></g>
<g transform="translate(37.91 152.50) scale(1 1.0350)"><path d="M11.74 0.00L8.97 0.00L8.97 -17.64C8.31 -17.01 7.43 -16.37 6.35 -15.73C5.26 -15.10 4.29 -14.63 3.43 -14.32L3.43 -17.00C4.98 -17.72 6.34 -18.61 7.49 -19.64C8.64 -20.67 9.46 -21.67 9.94 -21.99L11.74 -21.99Z"/><text x="17.52" y="0" font-size="31.50">.4</text></g>
<g transform="translate(37.91 179.60) scale(1 1.0350)"><path d="M11.74 0.00L8.97 0.00L8.97 -17.64C8.31 -17.01 7.43 -16.37 6.35 -15.73C5.26 -15.10 4.29 -14.63 3.43 -14.32L3.43 -17.00C4.98 -17.72 6.34 -18.61 7.49 -19.64C8.64 -20.67 9.46 -21.67 9.94 -21.99L11.74 -21.99Z"/><text x="17.52" y="0" font-size="31.50">.2</text></g>
<g transform="translate(37.91 207.50) scale(1 1.0350)"><path d="M11.74 0.00L8.97 0.00L8.97 -17.64C8.31 -17.01 7.43 -16.37 6.35 -15.73C5.26 -15.10 4.29 -14.63 3.43 -14.32L3.43 -17.00C4.98 -17.72 6.34 -18.61 7.49 -19.64C8.64 -20.67 9.46 -21.67 9.94 -21.99L11.74 -21.99Z"/><text x="17.52" y="0" font-size="31.50">.0</text></g>
<g transform="translate(37.91 235.50) scale(1 1.0350)"><text x="0.00" y="0" font-size="31.50">0.8</text></g>
<g transform="translate(37.91 263.10) scale(1 1.0350)"><text x="0.00" y="0" font-size="31.50">0.6</text></g>
<g transform="translate(37.91 291.40) scale(1 1.0350)"><text x="0.00" y="0" font-size="31.50">0.4</text></g>
<g transform="translate(37.91 319.60) scale(1 1.0350)"><text x="0.00" y="0" font-size="31.50">0.2</text></g>
<g transform="translate(37.91 348.70) scale(1 1.0350)"><text x="0.00" y="0" font-size="31.50">0.0</text></g>
<g transform="translate(37.21 375.70) scale(1 1.0350)"><path d="M11.74 0.00L8.97 0.00L8.97 -17.64C8.31 -17.01 7.43 -16.37 6.35 -15.73C5.26 -15.10 4.29 -14.63 3.43 -14.32L3.43 -17.00C4.98 -17.72 6.34 -18.61 7.49 -19.64C8.64 -20.67 9.46 -21.67 9.94 -21.99L11.74 -21.99Z"/><text x="17.52" y="0" font-size="31.50">.8</text></g>
<g transform="translate(37.21 403.80) scale(1 1.0350)"><path d="M11.74 0.00L8.97 0.00L8.97 -17.64C8.31 -17.01 7.43 -16.37 6.35 -15.73C5.26 -15.10 4.29 -14.63 3.43 -14.32L3.43 -17.00C4.98 -17.72 6.34 -18.61 7.49 -19.64C8.64 -20.67 9.46 -21.67 9.94 -21.99L11.74 -21.99Z"/><text x="17.52" y="0" font-size="31.50">.6</text></g>
<g transform="translate(37.21 431.70) scale(1 1.0350)"><path d="M11.74 0.00L8.97 0.00L8.97 -17.64C8.31 -17.01 7.43 -16.37 6.35 -15.73C5.26 -15.10 4.29 -14.63 3.43 -14.32L3.43 -17.00C4.98 -17.72 6.34 -18.61 7.49 -19.64C8.64 -20.67 9.46 -21.67 9.94 -21.99L11.74 -21.99Z"/><text x="17.52" y="0" font-size="31.50">.4</text></g>
<g transform="translate(37.21 459.50) scale(1 1.0350)"><path d="M11.74 0.00L8.97 0.00L8.97 -17.64C8.31 -17.01 7.43 -16.37 6.35 -15.73C5.26 -15.10 4.29 -14.63 3.43 -14.32L3.43 -17.00C4.98 -17.72 6.34 -18.61 7.49 -19.64C8.64 -20.67 9.46 -21.67 9.94 -21.99L11.74 -21.99Z"/><text x="17.52" y="0" font-size="31.50">.2</text></g>
<g transform="translate(37.21 487.70) scale(1 1.0350)"><path d="M11.74 0.00L8.97 0.00L8.97 -17.64C8.31 -17.01 7.43 -16.37 6.35 -15.73C5.26 -15.10 4.29 -14.63 3.43 -14.32L3.43 -17.00C4.98 -17.72 6.34 -18.61 7.49 -19.64C8.64 -20.67 9.46 -21.67 9.94 -21.99L11.74 -21.99Z"/><text x="17.52" y="0" font-size="31.50">.0</text></g>
<g transform="translate(37.21 515.50) scale(1 1.0350)"><text x="0.00" y="0" font-size="31.50">0.8</text></g>
<g transform="translate(37.21 542.90) scale(1 1.0350)"><text x="0.00" y="0" font-size="31.50">0.6</text></g>
<g transform="translate(37.21 570.50) scale(1 1.0350)"><text x="0.00" y="0" font-size="31.50">0.4</text></g>
<g transform="translate(37.21 598.20) scale(1 1.0350)"><text x="0.00" y="0" font-size="31.50">0.2</text></g>
<g transform="translate(37.21 626.60) scale(1 1.0350)"><text x="0.00" y="0" font-size="31.50">0.0</text></g>
<g transform="translate(91.84 655.50) scale(1 1.0350)"><text x="0.00" y="0" font-size="31.50">0</text></g>
<g transform="translate(212.34 655.50) scale(1 1.0350)"><text x="0.00" y="0" font-size="31.50">5</text></g>
<g transform="translate(325.38 655.50) scale(1 1.0350)"><path d="M11.74 0.00L8.97 0.00L8.97 -17.64C8.31 -17.01 7.43 -16.37 6.35 -15.73C5.26 -15.10 4.29 -14.63 3.43 -14.32L3.43 -17.00C4.98 -17.72 6.34 -18.61 7.49 -19.64C8.64 -20.67 9.46 -21.67 9.94 -21.99L11.74 -21.99Z"/><text x="17.52" y="0" font-size="31.50">0</text></g>
<g transform="translate(446.38 655.50) scale(1 1.0350)"><path d="M11.74 0.00L8.97 0.00L8.97 -17.64C8.31 -17.01 7.43 -16.37 6.35 -15.73C5.26 -15.10 4.29 -14.63 3.43 -14.32L3.43 -17.00C4.98 -17.72 6.34 -18.61 7.49 -19.64C8.64 -20.67 9.46 -21.67 9.94 -21.99L11.74 -21.99Z"/><text x="17.52" y="0" font-size="31.50">5</text></g>
<g transform="translate(566.68 655.50) scale(1 1.0350)"><text x="0.00" y="0" font-size="31.50">20</text></g>
<g transform="translate(687.88 655.50) scale(1 1.0350)"><text x="0.00" y="0" font-size="31.50">25</text></g>
<g transform="translate(808.48 655.50) scale(1 1.0350)"><text x="0.00" y="0" font-size="31.50">30</text></g>
<g transform="translate(928.78 655.50) scale(1 1.0350)"><text x="0.00" y="0" font-size="31.50">35</text></g>
<g transform="translate(480.60 689.40) scale(1 1.0350)"><text x="0.00" y="0" font-size="31.50">O</text><path d="M13.00 -4.69L22.70 0.89" stroke="#000" stroke-width="2.77" fill="none"/><text x="33.25" y="0" font-size="31.50">[Å</text></g>
<g transform="translate(543.60 668.80)"><text x="0.00" y="1.80" font-size="20.00">-</text><path d="M14.11 0.00L12.35 0.00L12.35 -11.20C11.93 -10.80 11.38 -10.39 10.69 -9.99C10.00 -9.59 9.38 -9.29 8.84 -9.09L8.84 -10.79C9.82 -11.25 10.68 -11.82 11.42 -12.47C12.15 -13.12 12.67 -13.76 12.97 -13.96L14.11 -13.96Z"/></g>
<g transform="translate(561.38 689.40)"><text x="0.00" y="0" font-size="31.50">]</text></g>
<g transform="translate(737.25 110.80) scale(1 1.0350)"><text x="0.00" y="0" font-size="31.50">MLMD</text></g>
<g transform="translate(748.77 149.10) scale(1 1.0200)"><text x="0.00" y="0" font-size="32.00">EXP</text><path d="M75.95 0.00L73.14 0.00L73.14 -17.92C72.47 -17.28 71.58 -16.62 70.48 -15.98C69.38 -15.34 68.39 -14.86 67.52 -14.55L67.52 -17.27C69.09 -18.00 70.47 -18.91 71.64 -19.95C72.81 -21.00 73.64 -22.02 74.12 -22.34L75.95 -22.34Z"/></g>
<g transform="translate(740.65 391.60) scale(1 1.0350)"><text x="0.00" y="0" font-size="31.50">MLMD</text></g>
<g transform="translate(751.67 430.20) scale(1 1.0200)"><text x="0.00" y="0" font-size="32.00">EXP2</text></g>
<g transform="translate(116.90 21.60) scale(1 1.0200)"><text x="0.00" y="0" font-size="26.50">O</text><path d="M10.93 -3.95L19.10 0.75" stroke="#000" stroke-width="2.33" fill="none"/></g><g transform="translate(136.80 21.60)"><path d="M6.78 0.00L5.18 0.00L5.18 -10.19C4.80 -9.83 4.29 -9.46 3.67 -9.09C3.04 -8.73 2.48 -8.45 1.98 -8.27L1.98 -9.82C2.88 -10.24 3.66 -10.75 4.33 -11.35C4.99 -11.94 5.47 -12.52 5.74 -12.71L6.78 -12.71Z"/></g>
<g transform="translate(161.20 21.60) scale(1 1.0200)"><text x="0.00" y="0" font-size="26.50">O</text><path d="M10.93 -3.95L19.10 0.75" stroke="#000" stroke-width="2.33" fill="none"/></g><g transform="translate(182.20 21.60)"><text x="0.00" y="0" font-size="18.20">2</text></g>
<g transform="translate(211.00 19.30) scale(1 1.0200)"><text x="0.00" y="0" font-size="26.50">O</text><path d="M10.93 -3.95L19.10 0.75" stroke="#000" stroke-width="2.33" fill="none"/></g><g transform="translate(232.40 19.30)"><text x="0.00" y="0" font-size="18.20">3</text></g>
<g transform="translate(91.40 50.70)"><text x="0.00" y="0" font-size="21.20">(FSDP)</text></g>
<g transform="translate(168.70 50.70)"><text x="0.00" y="0" font-size="21.20">(PP)</text></g>
<g transform="translate(25.00 244.40) rotate(-90)"><g transform="translate(0.00 0.00)"><text x="0.00" y="0" font-size="31.50">S</text></g><g transform="translate(21.01 0.00)"><text x="0.00" y="0" font-size="20.00">FZ</text></g><g transform="translate(45.44 0.00)"><text x="0.00" y="0" font-size="31.50">(</text><text x="10.49" y="0" font-size="31.50">O</text><path d="M23.49 -4.69L33.19 0.89" stroke="#000" stroke-width="2.77" fill="none"/></g><g transform="translate(82.94 0.00)"><text x="0.00" y="0" font-size="31.50">)</text></g></g>
<g transform="translate(24.10 521.10) rotate(-90)"><g transform="translate(0.00 0.00)"><text x="0.00" y="0" font-size="31.50">S</text></g><g transform="translate(21.01 0.00)"><text x="0.00" y="0" font-size="20.00">FZ</text></g><g transform="translate(45.44 0.00)"><text x="0.00" y="0" font-size="31.50">(</text><text x="10.49" y="0" font-size="31.50">O</text><path d="M23.49 -4.69L33.19 0.89" stroke="#000" stroke-width="2.77" fill="none"/></g><g transform="translate(82.94 0.00)"><text x="0.00" y="0" font-size="31.50">)</text></g></g>
</g>
</svg>
</body></html>
